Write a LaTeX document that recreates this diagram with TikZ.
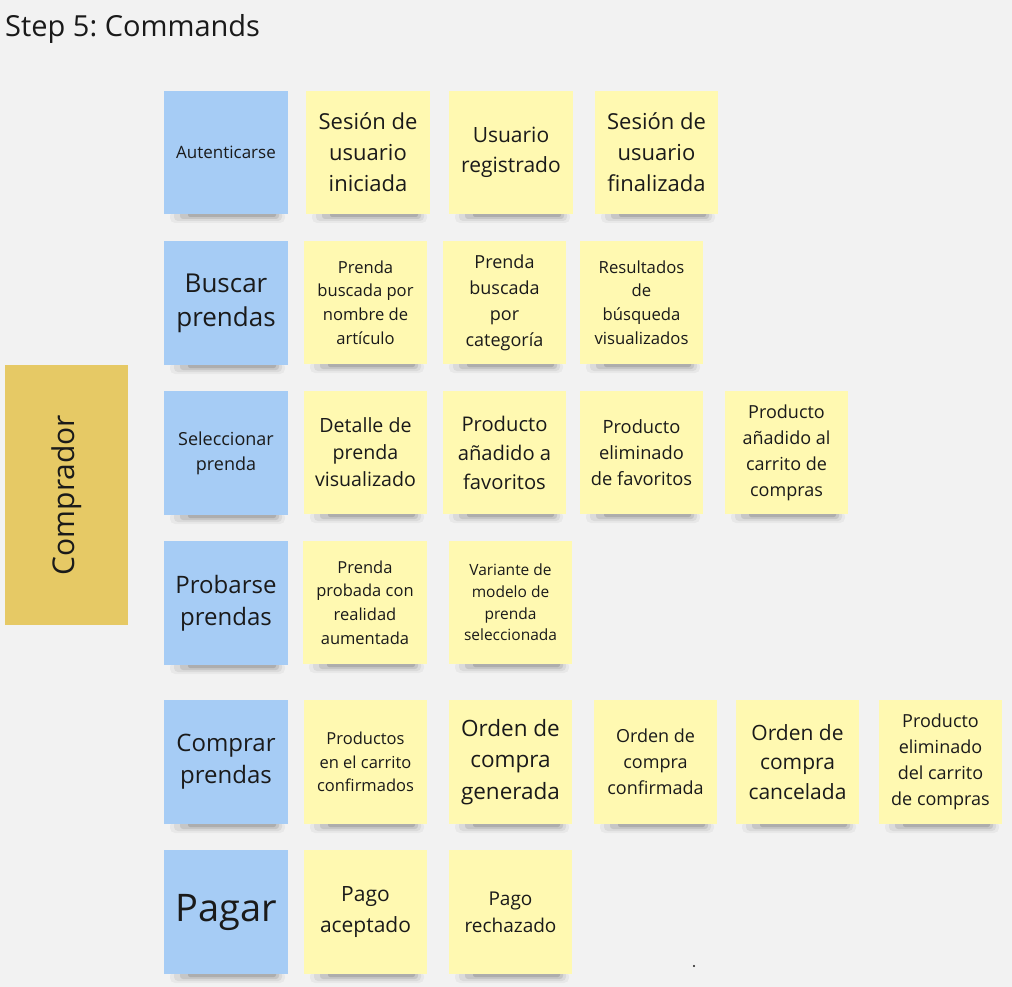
\documentclass[tikz,border=0pt]{standalone}
\usepackage{fontspec}
\setmainfont{Open Sans}
\frenchspacing
\definecolor{bg}{HTML}{F2F2F2}
\definecolor{nblue}{HTML}{A6CCF5}
\definecolor{nyel}{HTML}{FFF9B1}
\definecolor{actorc}{HTML}{E6C965}
\definecolor{ink}{HTML}{1A1A1A}
\newcommand\fs[2]{\fontsize{#1pt}{#2pt}\selectfont}
\tikzset{
  notebox/.style={inner sep=0pt, outer sep=0pt, text=ink, align=center},
  shadeA/.style={fill=black, opacity=.04, rounded corners=5pt},
  shadeB/.style={fill=black, opacity=.06, rounded corners=4pt},
  shadeC/.style={fill=black, opacity=.09, rounded corners=3pt},
  shadeD/.style={fill=black, opacity=.12, rounded corners=2pt},
}
% #1 name, #2 x, #3 y, #4 w, #5 h, #6 colour, #7 font size, #8 line skip, #9 text
\newcommand\sticky[9]{%
  \fill[shadeA] (#2+6,#3+#5-3) rectangle (#2+#4-3,#3+#5+9);
  \fill[shadeB] (#2+10,#3+#5-3) rectangle (#2+#4-6,#3+#5+7);
  \fill[shadeC] (#2+16,#3+#5-3) rectangle (#2+#4-9,#3+#5+5);
  \fill[shadeD] (#2+24,#3+#5-3) rectangle (#2+#4-12,#3+#5+3);
  \node[notebox, fill=#6, minimum width=#4pt, minimum height=#5pt, font=\fs{#7}{#8}] (#1) at (#2+#4/2,#3+#5/2) {#9};%
}
\begin{document}
\begin{tikzpicture}[x=1pt,y=-1pt]
\fill[bg] (0,0) rectangle (1012,987);
\useasboundingbox (0,0) rectangle (1012,987);
\node[anchor=base west, inner sep=0pt, text=ink, font=\fs{29}{36}] (title) at (5,37) {Step 5: Commands};
\node[notebox, fill=actorc, minimum width=123pt, minimum height=260pt] (actor) at (66.5,495) {};
\node[text=ink, rotate=90, font=\fs{30}{36}, inner sep=0pt] (actorlbl) at (actor.center) {Comprador};
% row 1
\sticky{a1}{164}{91}{124}{123}{nblue}{17}{23}{Autenticarse}
\sticky{e11}{306}{91}{124}{123}{nyel}{22}{31}{Sesión de\\usuario\\iniciada}
\sticky{e12}{449}{91}{124}{123}{nyel}{21}{30}{Usuario\\registrado}
\sticky{e13}{595}{91}{123}{123}{nyel}{22}{31}{Sesión de\\usuario\\finalizada}
% row 2
\sticky{a2}{164}{241}{124}{124}{nblue}{26}{34}{Buscar\\prendas}
\sticky{e21}{304}{241}{123}{123}{nyel}{16.6}{23.7}{Prenda\\buscada por\\nombre de\\artículo}
\sticky{e22}{443}{241}{123}{123}{nyel}{18}{26}{Prenda\\buscada\\por\\categoría}
\sticky{e23}{580}{241}{123}{123}{nyel}{16.7}{23.7}{Resultados\\de\\búsqueda\\visualizados}
% row 3
\sticky{a3}{164}{391}{124}{124}{nblue}{18}{25}{Seleccionar\\prenda}
\sticky{e31}{304}{391}{123}{123}{nyel}{19.6}{27}{Detalle de\\prenda\\visualizado}
\sticky{e32}{443}{391}{123}{123}{nyel}{20.2}{29}{Producto\\añadido a\\favoritos}
\sticky{e33}{580}{391}{123}{123}{nyel}{18.3}{26}{Producto\\eliminado\\de favoritos}
\sticky{e34}{725}{391}{123}{123}{nyel}{18}{26}{Producto\\añadido al\\carrito de\\compras}
% row 4
\sticky{a4}{164}{541}{124}{124}{nblue}{24}{32}{Probarse\\prendas}
\sticky{e41}{303}{541}{124}{123}{nyel}{16.5}{23.7}{Prenda\\probada con\\realidad\\aumentada}
\sticky{e42}{449}{541}{123}{123}{nyel}{15.5}{21.7}{Variante de\\modelo de\\prenda\\seleccionada}
% row 5
\sticky{a5}{164}{700}{124}{124}{nblue}{24}{32}{Comprar\\prendas}
\sticky{e51}{304}{700}{123}{124}{nyel}{16.5}{23.5}{Productos\\en el carrito\\confirmados}
\sticky{e52}{449}{700}{123}{124}{nyel}{22.5}{31.5}{Orden de\\compra\\generada}
\sticky{e53}{594}{700}{123}{124}{nyel}{18}{26}{Orden de\\compra\\confirmada}
\sticky{e54}{736}{700}{123}{124}{nyel}{21}{29.5}{Orden de\\compra\\cancelada}
\sticky{e55}{879}{700}{123}{124}{nyel}{18}{26}{Producto\\eliminado\\del carrito\\de compras}
% row 6
\sticky{a6}{164}{850}{124}{124}{nblue}{38}{46}{Pagar}
\sticky{e61}{304}{850}{123}{124}{nyel}{21}{31}{Pago\\aceptado}
\sticky{e62}{449}{850}{123}{124}{nyel}{19}{27}{Pago\\rechazado}
\fill[ink] (694,966) circle (1.2);
\end{tikzpicture}
\end{document}
